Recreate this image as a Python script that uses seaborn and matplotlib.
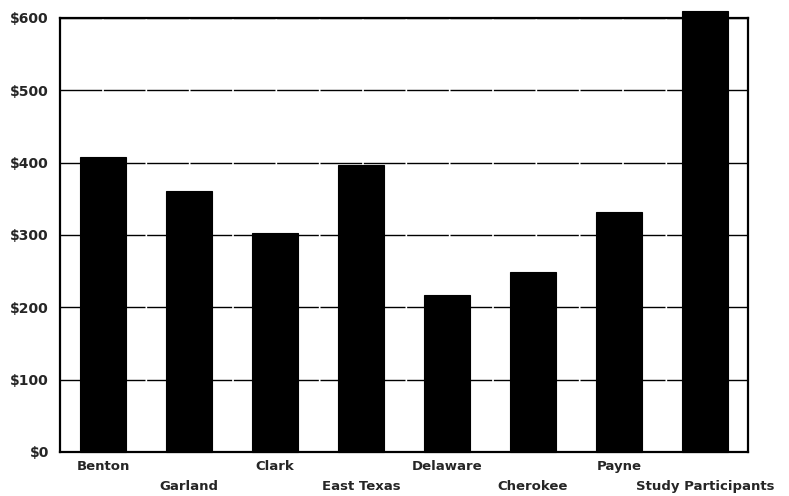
import matplotlib
matplotlib.use("Agg")
import matplotlib.pyplot as plt
import seaborn as sns
import pandas as pd

# Average amounts by county group
counties = ["Benton", "Garland", "Clark", "East Texas", "Delaware",
            "Cherokee", "Payne", "Study Participants"]
amounts = [407, 361, 303, 396, 217, 249, 332, 610]
y_ticks = [0, 100, 200, 300, 400, 500, 600]
y_tick_labels = ["$0", "$100", "$200", "$300", "$400", "$500", "$600"]

df = pd.DataFrame({"county": counties, "amount": amounts})

sns.set_theme(style="white")
plt.rcParams["font.family"] = ["DejaVu Sans"]

fig = plt.figure(figsize=(7.89, 4.96), dpi=100)
ax = fig.add_axes([0.076, 0.089, 0.872, 0.875])

sns.barplot(data=df, x="county", y="amount", color="black",
            width=0.53, saturation=1, edgecolor="black", linewidth=0.8,
            ax=ax, zorder=3)
for p in ax.patches:
    p.set_clip_on(False)

ax.set_ylim(0, 600)
ax.set_xlim(-0.5, len(counties) - 0.5)
ax.set_yticks(y_ticks)
ax.set_yticklabels(y_tick_labels, fontsize=10, fontweight="bold")
ax.yaxis.grid(True, color="black", linewidth=1.0, linestyle=(0, (30, 1.2)), zorder=0)
ax.set_axisbelow(True)

# Category labels, alternating between two rows
ax.set_xticks(range(len(counties)))
ax.set_xticklabels(counties, fontsize=9.5, fontweight="bold")
ax.tick_params(axis="x", length=0)
for i, tick in enumerate(ax.xaxis.get_major_ticks()):
    tick.set_pad(6 if i % 2 == 0 else 20)
ax.tick_params(axis="y", length=0, pad=8)
ax.set_xlabel("")
ax.set_ylabel("")

for s in ax.spines.values():
    s.set_visible(True)
    s.set_color("black")
    s.set_linewidth(1.6)

fig.savefig("out.png", dpi=100, facecolor="white")
